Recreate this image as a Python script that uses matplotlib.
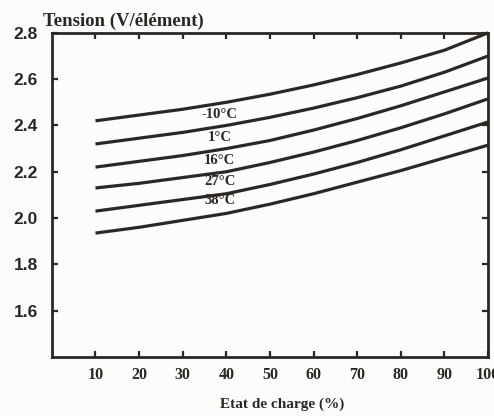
import matplotlib
matplotlib.use("Agg")
import matplotlib.pyplot as plt

# ---- data ----
charge = [10, 20, 30, 40, 50, 60, 70, 80, 90, 100]
curve_1 = [2.42, 2.445, 2.47, 2.50, 2.535, 2.575, 2.62, 2.67, 2.725, 2.80]
curve_2 = [2.32, 2.345, 2.37, 2.40, 2.435, 2.475, 2.52, 2.57, 2.63, 2.70]
curve_3 = [2.22, 2.245, 2.27, 2.30, 2.335, 2.38, 2.43, 2.485, 2.545, 2.605]
curve_4 = [2.13, 2.15, 2.175, 2.20, 2.24, 2.285, 2.335, 2.39, 2.45, 2.515]
curve_5 = [2.03, 2.055, 2.08, 2.105, 2.145, 2.19, 2.24, 2.295, 2.355, 2.415]
curve_6 = [1.935, 1.96, 1.99, 2.02, 2.06, 2.105, 2.155, 2.205, 2.26, 2.315]
curves = [curve_1, curve_2, curve_3, curve_4, curve_5, curve_6]

labels = ["-10°C", "1°C", "16°C", "27°C", "38°C"]
label_x = [38.5, 38.5, 38.5, 38.5, 38.5]
label_y = [2.449, 2.349, 2.249, 2.158, 2.075]

x_ticks = [10, 20, 30, 40, 50, 60, 70, 80, 90, 100]
x_tick_labels = ["10", "20", "30", "40", "50", "60", "70", "80", "90", "100"]
y_ticks = [1.6, 1.8, 2.0, 2.2, 2.4, 2.6, 2.8]
y_tick_labels = ["1.6", "1.8", "2.0", "2.2", "2.4", "2.6", "2.8"]

title_text = "Tension (V/élément)"
xlabel_text = "Etat de charge (%)"

# ---- figure ----
ink = "#2b2724"
paper = "#fcfcfa"
fig = plt.figure(figsize=(4.94, 4.16), dpi=100, facecolor=paper)
ax = fig.add_axes([0.105, 0.142, 0.883, 0.779], facecolor=paper)

for c in curves:
    ax.plot(charge, c, color=ink, lw=2.3, solid_capstyle="butt",
            solid_joinstyle="round", clip_on=False)

for t, lx, ly in zip(labels, label_x, label_y):
    ax.text(lx, ly, t, ha="center", va="center", fontsize=10.5,
            fontfamily="Liberation Serif", fontweight="bold", color=ink)

ax.set_xlim(0, 100)
ax.set_ylim(1.4, 2.8)
ax.set_xticks(x_ticks)
ax.set_xticklabels(x_tick_labels, fontfamily="Liberation Serif",
                   fontweight="bold", fontsize=11.5, color=ink)
ax.set_yticks(y_ticks)
ax.set_yticklabels(y_tick_labels, fontfamily="Liberation Sans",
                   fontweight="bold", fontsize=12.5, color=ink)

ax.tick_params(axis="both", direction="in", length=4, width=1.6, color=ink,
               top=True, right=True)
ax.tick_params(axis="x", pad=7)
ax.tick_params(axis="y", pad=10)

for s in ax.spines.values():
    s.set_linewidth(2.0)
    s.set_color(ink)

fig.text(43 / 494, 1 - 26 / 416, title_text, ha="left", va="baseline",
         fontsize=13.5, fontfamily="Liberation Serif", fontweight="bold", color=ink)
fig.text(282 / 494, 1 - 404 / 416, xlabel_text, ha="center", va="center",
         fontsize=11, fontfamily="Liberation Serif", fontweight="bold", color=ink)

fig.savefig("out.png", dpi=100, facecolor=paper)
